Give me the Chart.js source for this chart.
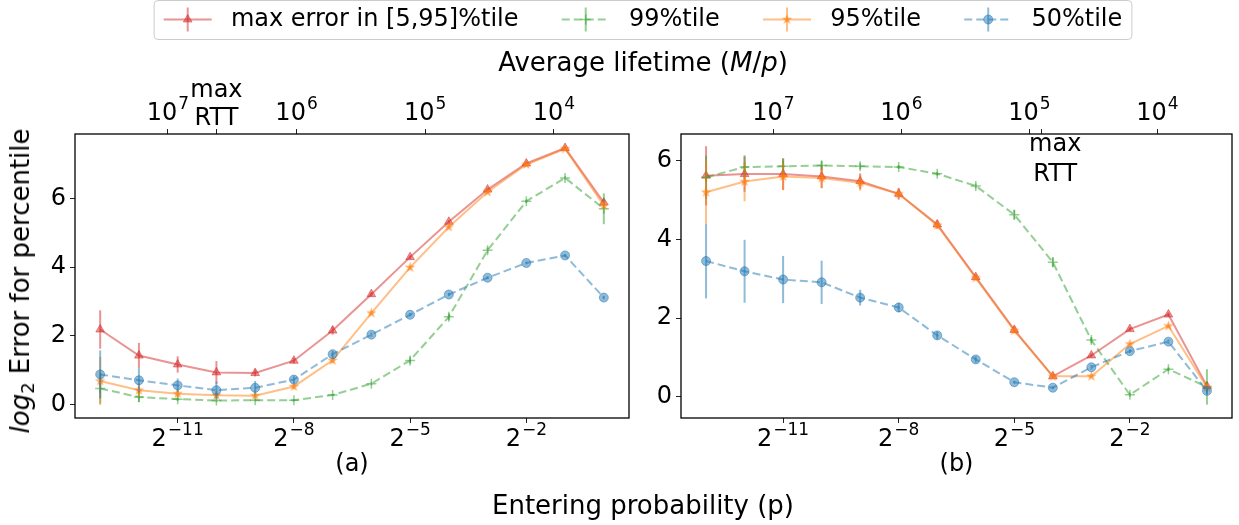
<!DOCTYPE html>
<html lang="en">
<head>
<meta charset="UTF-8">
<title>log2 error for percentile vs entering probability</title>
<script src="https://cdn.jsdelivr.net/npm/chart.js@4/dist/chart.umd.min.js"></script>
<style>
    body { margin: 0; background: #fff; font-family: "DejaVu Sans", sans-serif; }
    #wrap { position: relative; width: 1239px; height: 525px; overflow: hidden; }
    canvas { position: absolute; left: 0; top: 0; }
    .lbl { position: absolute; font-size: 26px; white-space: nowrap; color: #000;
           transform: translate(-50%, -50%); line-height: 1; }
    #ylab { transform: translate(-50%, -50%) rotate(-90deg); }
    #ylab sub { font-size: 18px; vertical-align: -5px; }
</style>
</head>
<body>
<div id="wrap">
    <canvas id="chartA" width="1239" height="525"></canvas>
    <canvas id="chartB" width="1239" height="525"></canvas>
    <div class="lbl" style="left:643px; top:62px">Average lifetime (<i>M</i>/<i>p</i>)</div>
    <div class="lbl" style="left:643px; top:505px">Entering probability (p)</div>
    <div class="lbl" id="ylab" style="left:22px; top:281px"><i>log</i><sub>2</sub> Error for percentile</div>
</div>

<script>
    // x positions: log2 of the entering probability p
    const exponents = [-13, -12, -11, -10, -9, -8, -7, -6, -5, -4, -3, -2, -1, 0];

    // panel (a)
    const maxErrA    = [2.18, 1.42, 1.16, 0.93, 0.91, 1.27, 2.15, 3.21, 4.29, 5.32, 6.26, 7.02, 7.47, 5.88];
    const maxErrAErr = [0.56, 0.37, 0.24, 0.33, 0.10, 0.08, 0.12, 0.06, 0.05, 0.05, 0.05, 0.05, 0.05, 0.10];
    const p99A       = [0.46, 0.21, 0.15, 0.11, 0.12, 0.12, 0.27, 0.60, 1.28, 2.55, 4.49, 5.92, 6.60, 5.70];
    const p99AErr    = [0.44, 0.15, 0.05, 0.05, 0.03, 0.03, 0.03, 0.05, 0.10, 0.10, 0.08, 0.05, 0.05, 0.45];
    const p95A       = [0.68, 0.41, 0.31, 0.26, 0.25, 0.52, 1.28, 2.66, 3.99, 5.17, 6.19, 6.99, 7.45, 5.80];
    const p95AErr    = [0.70, 0.20, 0.10, 0.08, 0.05, 0.08, 0.08, 0.06, 0.05, 0.05, 0.05, 0.05, 0.05, 0.10];
    const p50A       = [0.87, 0.70, 0.55, 0.41, 0.48, 0.72, 1.46, 2.03, 2.61, 3.20, 3.69, 4.12, 4.34, 3.11];
    const p50AErr    = [0.70, 0.35, 0.20, 0.25, 0.20, 0.10, 0.10, 0.06, 0.05, 0.05, 0.04, 0.04, 0.04, 0.05];

    // panel (b)
    const maxErrB    = [5.62, 5.66, 5.66, 5.60, 5.48, 5.16, 4.38, 3.04, 1.70, 0.52, 1.05, 1.72, 2.09, 0.27];
    const maxErrBErr = [0.75, 0.45, 0.40, 0.30, 0.20, 0.15, 0.10, 0.06, 0.08, 0.05, 0.05, 0.05, 0.05, 0.10];
    const p99B       = [5.58, 5.84, 5.86, 5.88, 5.86, 5.84, 5.67, 5.36, 4.63, 3.42, 1.44, 0.05, 0.70, 0.25];
    const p99BErr    = [0.55, 0.30, 0.20, 0.12, 0.08, 0.05, 0.05, 0.06, 0.12, 0.12, 0.08, 0.05, 0.05, 0.45];
    const p95B       = [5.20, 5.47, 5.60, 5.56, 5.44, 5.16, 4.36, 3.02, 1.68, 0.52, 0.52, 1.34, 1.80, 0.24];
    const p95BErr    = [0.80, 0.50, 0.35, 0.25, 0.20, 0.12, 0.10, 0.05, 0.05, 0.04, 0.04, 0.04, 0.04, 0.08];
    const p50B       = [3.45, 3.19, 2.98, 2.91, 2.52, 2.27, 1.56, 0.95, 0.37, 0.23, 0.75, 1.16, 1.40, 0.15];
    const p50BErr    = [0.95, 0.80, 0.60, 0.55, 0.20, 0.12, 0.10, 0.08, 0.04, 0.04, 0.06, 0.05, 0.06, 0.08];

    const seriesLabels = ['max error in [5,95]%tile', '99%tile', '95%tile', '50%tile'];

    // tick values; x labels are written as powers (2^v, 10^k)
    const bottomTicks = [-11, -8, -5, -2];
    const lifetimes = [1e7, 1e6, 1e5, 1e4];
    const yTicksA = [0, 2, 4, 6];
    const yTicksB = [0, 2, 4, 6];

    // lifetime = M / p, with M = 2^12
    const M_SIZE = 4096;
    const maxRttA = -10;
    const maxRttB = -4.3;

    Chart.defaults.font.family = '"DejaVu Sans", sans-serif';
    Chart.defaults.font.size = 24;
    Chart.defaults.color = '#000';

    const colors = {
        red: 'rgba(214, 39, 40, 0.5)',
        green: 'rgba(44, 160, 44, 0.5)',
        orange: 'rgba(255, 127, 14, 0.5)',
        blue: 'rgba(31, 119, 180, 0.5)'
    };

    // filled 5 point star, like matplotlib's '*'
    function starImage(color, r) {
        const c = document.createElement('canvas');
        const s = Math.ceil(2 * r + 2);
        c.width = c.height = s;
        const g = c.getContext('2d');
        g.fillStyle = color;
        g.beginPath();
        for (let k = 0; k < 10; k++) {
            const rad = k % 2 === 0 ? r : r * 0.4;
            const a = -Math.PI / 2 + k * Math.PI / 5;
            g.lineTo(s / 2 + rad * Math.cos(a), s / 2 + rad * Math.sin(a));
        }
        g.closePath();
        g.fill();
        return c;
    }
    const orangeStar = starImage('rgba(255, 127, 14, 0.65)', 5.5);

    const log2 = v => Math.log(v) / Math.LN2;
    const lifetimeToExp = L => log2(M_SIZE) - log2(L);
    const supText = n => (n < 0 ? '\u2212' : '') + Math.abs(n);

    function points(values) {
        return exponents.map((e, i) => ({ x: e, y: values[i] }));
    }

    function makeDatasets(maxErr, maxErrErr, p99, p99Err, p95, p95Err, p50, p50Err) {
        return [
            { label: seriesLabels[0], data: points(maxErr), errors: maxErrErr, order: 4,
              borderColor: colors.red, backgroundColor: colors.red, borderWidth: 2,
              pointStyle: 'triangle', pointRadius: 5, pointBorderWidth: 1 },
            { label: seriesLabels[1], data: points(p99), errors: p99Err, order: 3,
              borderColor: colors.green, backgroundColor: colors.green, borderWidth: 2, borderDash: [8, 4],
              pointStyle: 'cross', pointRadius: 5, pointBorderWidth: 1.5 },
            { label: seriesLabels[2], data: points(p95), errors: p95Err, order: 2,
              borderColor: colors.orange, backgroundColor: colors.orange, borderWidth: 2,
              pointStyle: orangeStar, pointRadius: 5 },
            { label: seriesLabels[3], data: points(p50), errors: p50Err, order: 1,
              borderColor: colors.blue, backgroundColor: colors.blue, borderWidth: 2, borderDash: [8, 4],
              pointStyle: 'circle', pointRadius: 4.5, pointBorderWidth: 1 }
        ];
    }

    // vertical error bars under each series
    const errorBars = {
        id: 'errorBars',
        beforeDatasetDraw(chart, args) {
            const ds = chart.data.datasets[args.index];
            if (!ds.errors) return;
            const xs = chart.scales.x, ys = chart.scales.y;
            const ctx = chart.ctx;
            ctx.save();
            ctx.strokeStyle = ds.borderColor;
            ctx.lineWidth = 2;
            ds.data.forEach((pt, i) => {
                const px = xs.getPixelForValue(pt.x);
                ctx.beginPath();
                ctx.moveTo(px, ys.getPixelForValue(pt.y - ds.errors[i]));
                ctx.lineTo(px, ys.getPixelForValue(pt.y + ds.errors[i]));
                ctx.stroke();
            });
            ctx.restore();
        }
    };

    // box round the plot area
    const frame = {
        id: 'frame',
        afterDraw(chart) {
            const { left, top, right, bottom } = chart.chartArea;
            const ctx = chart.ctx;
            ctx.save();
            ctx.strokeStyle = '#000';
            ctx.lineWidth = 1.3;
            ctx.strokeRect(left, top, right - left, bottom - top);
            ctx.restore();
        }
    };

    // base with a raised exponent, centred on cx
    function drawPower(ctx, base, sup, cx, baseline) {
        ctx.font = '24px "DejaVu Sans"';
        const wb = ctx.measureText(base).width;
        ctx.font = '17px "DejaVu Sans"';
        const ws = ctx.measureText(sup).width;
        const x0 = cx - (wb + ws + 1) / 2;
        ctx.font = '24px "DejaVu Sans"';
        ctx.fillText(base, x0, baseline);
        ctx.font = '17px "DejaVu Sans"';
        ctx.fillText(sup, x0 + wb + 1, baseline - 11);
    }

    // power-style tick labels on the bottom (2^k) and top (10^k) axes, plus the max RTT mark
    const powerTicks = {
        id: 'powerTicks',
        afterDraw(chart, args, opts) {
            const ctx = chart.ctx;
            const xs = chart.scales.x, xt = chart.scales.xTop;
            const area = chart.chartArea;
            ctx.save();
            ctx.fillStyle = '#000';
            ctx.textAlign = 'left';
            ctx.textBaseline = 'alphabetic';
            bottomTicks.forEach(v => drawPower(ctx, '2', supText(v), xs.getPixelForValue(v), area.bottom + 28));
            lifetimes.forEach(L => drawPower(ctx, '10', supText(Math.round(Math.log10(L))),
                xt.getPixelForValue(lifetimeToExp(L)), area.top - 14));

            ctx.font = '24px "DejaVu Sans"';
            ctx.textAlign = 'center';
            const rx = xt.getPixelForValue(opts.maxRtt);
            if (opts.rttInside) {
                ctx.fillText('max', rx + 14, area.top + 17);
                ctx.fillText('RTT', rx + 14, area.top + 47);
            } else {
                ctx.fillText('max', rx, area.top - 37);
                ctx.fillText('RTT', rx, area.top - 9);
            }
            ctx.restore();
        }
    };

    // shared legend across the top, drawn once on chart A
    const legendBox = {
        id: 'legendBox',
        afterDraw(chart, args, opts) {
            if (!opts.show) return;
            const ctx = chart.ctx;
            const fs = 24;
            const handle = 2 * fs, textPad = 0.8 * fs, colSp = 1.8 * fs, border = 0.4 * fs;
            ctx.save();
            ctx.font = fs + 'px "DejaVu Sans"';
            const sets = chart.data.datasets;
            const widths = sets.map(ds => ctx.measureText(ds.label).width);
            const total = widths.reduce((a, w) => a + handle + textPad + w, 0) + colSp * (sets.length - 1) + 2 * border;
            const x0 = opts.centerX - total / 2;
            const yTop = 0.5, h = 39, yMid = 19.5;

            ctx.fillStyle = 'rgba(255,255,255,0.8)';
            ctx.strokeStyle = '#cccccc';
            ctx.lineWidth = 1;
            ctx.beginPath();
            if (ctx.roundRect) ctx.roundRect(x0, yTop, total, h, 4);
            else ctx.rect(x0, yTop, total, h);
            ctx.fill();
            ctx.stroke();

            let x = x0 + border;
            sets.forEach((ds, i) => {
                const cx = x + handle / 2;
                ctx.strokeStyle = ds.borderColor;
                ctx.lineWidth = 2;
                ctx.setLineDash(ds.borderDash || []);
                ctx.beginPath();
                ctx.moveTo(x, yMid);
                ctx.lineTo(x + handle, yMid);
                ctx.stroke();
                ctx.setLineDash([]);
                ctx.beginPath();
                ctx.moveTo(cx, yMid - 12);
                ctx.lineTo(cx, yMid + 12);
                ctx.stroke();
                ctx.fillStyle = ds.backgroundColor;
                ctx.lineWidth = ds.pointBorderWidth || 1;
                Chart.helpers.drawPoint(ctx, {
                    pointStyle: ds.pointStyle, radius: ds.pointRadius,
                    rotation: 0, borderWidth: ds.pointBorderWidth || 0
                }, cx, yMid);
                ctx.fillStyle = '#000';
                ctx.textBaseline = 'middle';
                ctx.textAlign = 'left';
                ctx.fillText(ds.label, x + handle + textPad, yMid);
                x += handle + textPad + widths[i] + colSp;
            });
            ctx.restore();
        }
    };

    function makePanel(canvasId, cfg) {
        const topTickValues = lifetimes.map(lifetimeToExp).concat([cfg.maxRtt]);
        const tickGrid = { display: true, drawOnChartArea: false, tickLength: 5, tickColor: '#222', tickWidth: 1 };

        return new Chart(document.getElementById(canvasId), {
            type: 'line',
            data: { datasets: cfg.datasets },
            options: {
                responsive: false,
                animation: false,
                events: [],
                layout: { padding: cfg.padding },
                elements: { line: { tension: 0 } },
                plugins: {
                    legend: { display: false },
                    tooltip: { enabled: false },
                    legendBox: { show: cfg.showLegend, centerX: 643 },
                    powerTicks: { maxRtt: cfg.maxRtt, rttInside: cfg.rttInside }
                },
                scales: {
                    x: {
                        type: 'linear', position: 'bottom', min: -13.65, max: 0.65,
                        grid: tickGrid, border: { display: false },
                        afterBuildTicks: s => { s.ticks = bottomTicks.map(v => ({ value: v })); },
                        afterFit: s => { s.height = 107; },
                        ticks: { display: false },
                        title: { display: true, text: cfg.title, padding: { top: 0, bottom: 46 } }
                    },
                    xTop: {
                        type: 'linear', position: 'top', min: -13.65, max: 0.65,
                        grid: tickGrid, border: { display: false },
                        afterBuildTicks: s => { s.ticks = topTickValues.map(v => ({ value: v })); },
                        afterFit: s => { s.height = 134; },
                        ticks: { display: false }
                    },
                    y: {
                        type: 'linear', position: 'left', min: cfg.yMin, max: cfg.yMax,
                        grid: tickGrid, border: { display: false },
                        afterBuildTicks: s => { s.ticks = cfg.yTicks.map(v => ({ value: v })); },
                        afterFit: s => { s.width = cfg.yWidth; },
                        ticks: { padding: 4, callback: v => String(v) }
                    }
                }
            },
            plugins: [errorBars, frame, powerTicks, legendBox]
        });
    }

    makePanel('chartA', {
        datasets: makeDatasets(maxErrA, maxErrAErr, p99A, p99AErr, p95A, p95AErr, p50A, p50AErr),
        padding: { left: 0, right: 610, top: 0, bottom: 0 },
        yWidth: 75, yMin: -0.4, yMax: 7.88, yTicks: yTicksA,
        title: '(a)', maxRtt: maxRttA, rttInside: false, showLegend: true
    });

    makePanel('chartB', {
        datasets: makeDatasets(maxErrB, maxErrBErr, p99B, p99BErr, p95B, p95BErr, p50B, p50BErr),
        padding: { left: 621, right: 3, top: 0, bottom: 0 },
        yWidth: 60, yMin: -0.54, yMax: 6.68, yTicks: yTicksB,
        title: '(b)', maxRtt: maxRttB, rttInside: true, showLegend: false
    });
</script>
</body>
</html>
